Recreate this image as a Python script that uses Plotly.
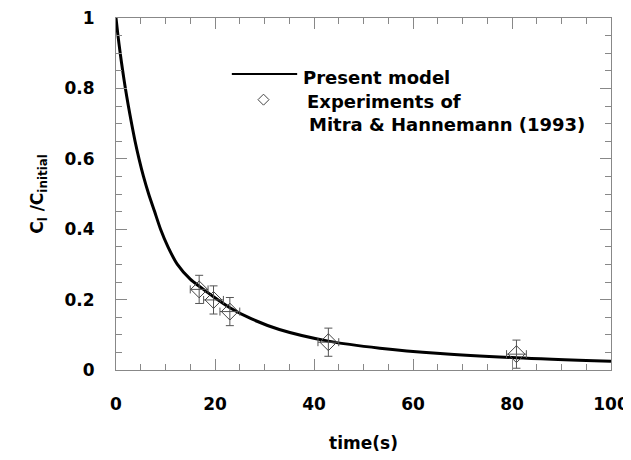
import plotly.graph_objects as go

# Model curve
t_model = [0, 0.4, 0.85, 1.35, 1.9, 2.5, 3.15, 3.85, 4.65, 5.55, 6.6, 7.8, 9.0, 10.5, 12.4,
           15.0, 17.0, 19.7, 23.0, 27.4, 33.0, 42.9, 53.3, 65.5, 80.9, 100]
c_model = [1.0, 0.95, 0.90, 0.85, 0.80, 0.75, 0.70, 0.65, 0.60, 0.55, 0.50, 0.45, 0.40, 0.35, 0.30,
           0.258, 0.236, 0.208, 0.177, 0.145, 0.115, 0.082, 0.062, 0.047, 0.035, 0.025]

# Experimental data (Mitra & Hannemann, 1993)
t_exp = [16.8, 19.7, 23.0, 42.9, 80.9]
c_exp = [0.229, 0.199, 0.166, 0.079, 0.045]
t_err = [1.8, 2.0, 2.0, 2.1, 2.0]
c_err = [0.04, 0.04, 0.04, 0.04, 0.04]

FONT = "DejaVu Sans, sans-serif"
AXC = "#888888"

fig = go.Figure()
fig.add_trace(go.Scatter(
    x=t_model, y=c_model, mode="lines",
    line=dict(color="black", width=3, shape="spline", smoothing=0.8),
    showlegend=False, hoverinfo="skip"))
fig.add_trace(go.Scatter(
    x=t_exp, y=c_exp, mode="markers",
    marker=dict(symbol="diamond-open", size=13, color="#444444", line=dict(width=1)),
    error_x=dict(type="data", array=t_err, color="#555555", thickness=1, width=4),
    error_y=dict(type="data", array=c_err, color="#555555", thickness=1, width=4),
    showlegend=False))

axis_common = dict(
    showline=True, linecolor=AXC, linewidth=1, mirror="ticks",
    ticks="inside", tickcolor=AXC, tickwidth=1, ticklen=11,
    showgrid=False, zeroline=False, ticklabeloverflow="allow",
    tickfont=dict(family=FONT, size=17, color="black", weight="bold"),
)

fig.update_xaxes(
    range=[0, 100], tick0=0, dtick=20, ticklabelstandoff=19,
    minor=dict(dtick=5, ticks="inside", ticklen=6, tickcolor=AXC, showgrid=False),
    title=dict(text="time(s)", font=dict(family=FONT, size=17, color="black", weight="bold"), standoff=23),
    **axis_common)
fig.update_yaxes(
    range=[0, 1], tick0=0, dtick=0.2, ticklabelstandoff=17,
    minor=dict(dtick=0.05, ticks="inside", ticklen=6, tickcolor=AXC, showgrid=False),
    title=dict(text="C<sub>l</sub> /C<sub>initial</sub>", font=dict(family=FONT, size=17, color="black", weight="bold"), standoff=16),
    **axis_common)

# Manual legend
lf = dict(family=FONT, size=18, color="black", weight="bold")
fig.add_shape(type="line", xref="paper", yref="paper", x0=0.234, x1=0.366, y0=0.841, y1=0.841,
              line=dict(color="black", width=2))
fig.add_shape(type="path", xref="paper", yref="paper", xsizemode="pixel", ysizemode="pixel",
              xanchor=0.298, yanchor=0.768,
              path="M -5.5 0 L 0 5.5 L 5.5 0 L 0 -5.5 Z", line=dict(color="#444444", width=1))
fig.add_annotation(xref="paper", yref="paper", x=0.374, y=0.832, xanchor="left", yanchor="middle",
                   text="Present model", showarrow=False, font=lf)
fig.add_annotation(xref="paper", yref="paper", x=0.382, y=0.764, xanchor="left", yanchor="middle",
                   text="Experiments of", showarrow=False, font=lf)
fig.add_annotation(xref="paper", yref="paper", x=0.386, y=0.698, xanchor="left", yanchor="middle",
                   text="Mitra &amp; Hannemann (1993)", showarrow=False, font=lf)

fig.update_layout(
    width=623, height=452,
    margin=dict(l=108, r=20, t=10, b=90, autoexpand=False),
    paper_bgcolor="white", plot_bgcolor="white",
)

fig.write_html("out.html")
